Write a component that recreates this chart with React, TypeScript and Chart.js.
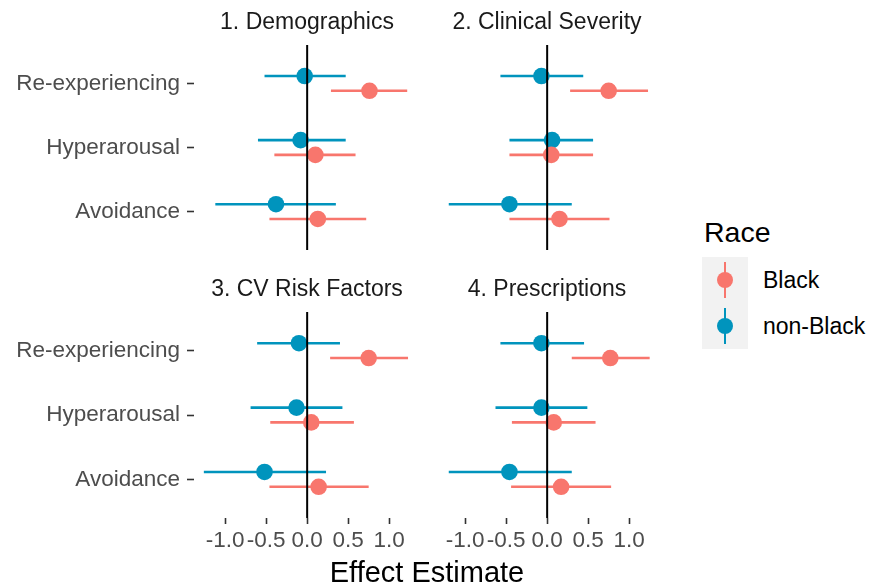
import React, { useEffect, useRef } from "react";
import { Chart, registerables } from "chart.js";

Chart.register(...registerables);

const FONT = "'Liberation Sans', Arial, Helvetica, sans-serif";

const categories = ["Re-experiencing", "Hyperarousal", "Avoidance"];
const facets = ["1. Demographics", "2. Clinical Severity", "3. CV Risk Factors", "4. Prescriptions"];
const groups = ["Black", "non-Black"];
const groupColors = ["#F8766D", "#0094BD"];

// per facet, per category (Re-experiencing, Hyperarousal, Avoidance)
const blackEstimate = [
  [0.76, 0.1, 0.13],
  [0.75, 0.05, 0.15],
  [0.75, 0.05, 0.14],
  [0.77, 0.08, 0.17],
];
const blackLower = [
  [0.29, -0.4, -0.46],
  [0.28, -0.46, -0.46],
  [0.28, -0.45, -0.46],
  [0.3, -0.43, -0.44],
];
const blackUpper = [
  [1.22, 0.59, 0.72],
  [1.23, 0.56, 0.76],
  [1.23, 0.57, 0.75],
  [1.25, 0.59, 0.78],
];
const nonBlackEstimate = [
  [-0.03, -0.08, -0.38],
  [-0.07, 0.06, -0.46],
  [-0.1, -0.13, -0.52],
  [-0.07, -0.07, -0.46],
];
const nonBlackLower = [
  [-0.52, -0.6, -1.12],
  [-0.57, -0.46, -1.2],
  [-0.61, -0.69, -1.26],
  [-0.57, -0.63, -1.2],
];
const nonBlackUpper = [
  [0.47, 0.47, 0.35],
  [0.44, 0.56, 0.3],
  [0.4, 0.43, 0.23],
  [0.45, 0.49, 0.3],
];

const xTicks = [-1.0, -0.5, 0.0, 0.5, 1.0];
const xLimits = [-1.38, 1.376];
const yLimits = [0.4, 3.6];
const dodge = 0.115;

type PanelProps = {
  index: number;
  left: number;
  top: number;
  width: number;
  height: number;
  showY: boolean;
  showX: boolean;
  titlePadTop: number;
};

function Panel({ index, left, top, width, height, showY, showX, titlePadTop }: PanelProps) {
  const ref = useRef<HTMLCanvasElement | null>(null);

  useEffect(() => {
    if (!ref.current) return;
    const datasets: any[] = [];
    datasets.push({
      label: "zero",
      data: yLimits.map((y) => ({ x: 0, y })),
      showLine: true,
      borderColor: "#000000",
      borderWidth: 2,
      pointRadius: 0,
      order: 0,
    });
    groups.forEach((g, gi) => {
      const est = gi === 0 ? blackEstimate[index] : nonBlackEstimate[index];
      const lo = gi === 0 ? blackLower[index] : nonBlackLower[index];
      const hi = gi === 0 ? blackUpper[index] : nonBlackUpper[index];
      const off = gi === 0 ? dodge : -dodge;
      datasets.push({
        label: g,
        data: categories.map((c, i) => ({ x: est[i], y: i + 1 + off })),
        pointRadius: 8.3,
        pointBackgroundColor: groupColors[gi],
        pointBorderWidth: 0,
        backgroundColor: groupColors[gi],
        borderColor: groupColors[gi],
        order: 1,
      });
      categories.forEach((c, i) => {
        datasets.push({
          label: g + " " + c,
          data: [
            { x: lo[i], y: i + 1 + off },
            { x: hi[i], y: i + 1 + off },
          ],
          showLine: true,
          borderColor: groupColors[gi],
          borderWidth: 2.6,
          pointRadius: 0,
          order: 2,
        });
      });
    });

    const chart = new Chart(ref.current, {
      type: "scatter",
      data: { datasets },
      options: {
        animation: false,
        responsive: false,
        maintainAspectRatio: false,
        events: [],
        layout: { padding: 0, autoPadding: false } as any,
        plugins: {
          legend: { display: false },
          tooltip: { enabled: false },
          title: {
            display: true,
            text: facets[index],
            fullSize: false,
            color: "#1A1A1A",
            font: { family: FONT, size: 23, weight: "normal" as any, lineHeight: 1.2 },
            padding: { top: titlePadTop, bottom: 8.2 },
          },
        },
        scales: {
          x: {
            type: "linear",
            min: xLimits[0],
            max: xLimits[1],
            display: showX,
            afterBuildTicks: (scale: any) => {
              scale.ticks = xTicks.map((v) => ({ value: v }));
            },
            afterFit: (scale: any) => {
              scale.height = showX ? 40 : 0;
              scale.paddingLeft = 0;
              scale.paddingRight = 0;
            },
            grid: {
              drawOnChartArea: false,
              drawTicks: true,
              tickLength: 6,
              tickWidth: 1.6,
              tickColor: "#333333",
            },
            border: { display: false },
            ticks: {
              display: showX,
              autoSkip: false,
              maxRotation: 0,
              minRotation: 0,
              padding: 3,
              color: "#4D4D4D",
              font: { family: FONT, size: 22.5 },
              callback: (v: any) => Number(v).toFixed(1),
            },
          },
          y: {
            type: "linear",
            min: yLimits[0],
            max: yLimits[1],
            reverse: true,
            display: showY,
            afterBuildTicks: (scale: any) => {
              scale.ticks = categories.map((c, i) => ({ value: i + 1 }));
            },
            afterFit: (scale: any) => {
              scale.width = showY ? 194 : 0;
              scale.paddingTop = 0;
              scale.paddingBottom = 0;
            },
            grid: {
              drawOnChartArea: false,
              drawTicks: true,
              tickLength: 7,
              tickWidth: 1.6,
              tickColor: "#333333",
            },
            border: { display: false },
            ticks: {
              display: showY,
              autoSkip: false,
              padding: 7,
              color: "#4D4D4D",
              font: { family: FONT, size: 22.5 },
              callback: (v: any) => categories[Math.round(Number(v)) - 1] ?? "",
            },
          },
        },
      },
    });
    return () => chart.destroy();
  }, [index, showX, showY, titlePadTop]);

  return (
    <canvas
      ref={ref}
      width={width}
      height={height}
      style={{ position: "absolute", left, top, width, height }}
    />
  );
}

function LegendKey({ color, top }: { color: string; top: number }) {
  return (
    <div style={{ position: "absolute", left: 0, top, width: 46, height: 46 }}>
      <div
        style={{
          position: "absolute",
          left: 23 - 1.3,
          top: 5,
          width: 2.6,
          height: 36,
          background: color,
        }}
      />
      <div
        style={{
          position: "absolute",
          left: 23 - 8.3,
          top: 23 - 8.3,
          width: 16.6,
          height: 16.6,
          borderRadius: "50%",
          background: color,
        }}
      />
    </div>
  );
}

export default function App() {
  return (
    <div
      style={{
        position: "absolute",
        left: 0,
        top: 0,
        width: 869,
        height: 587,
        background: "#FFFFFF",
        fontFamily: FONT,
        overflow: "hidden",
      }}
    >
      <Panel index={0} left={0} top={0} width={420} height={250} showY={true} showX={false} titlePadTop={9.2} />
      <Panel index={1} left={434} top={0} width={226} height={250} showY={false} showX={false} titlePadTop={9.2} />
      <Panel index={2} left={0} top={260} width={420} height={298} showY={true} showX={true} titlePadTop={16.2} />
      <Panel index={3} left={434} top={260} width={226} height={298} showY={false} showX={true} titlePadTop={16.2} />

      <div
        style={{
          position: "absolute",
          left: 427,
          top: 555,
          transform: "translateX(-50%)",
          fontSize: 29,
          lineHeight: "34px",
          color: "#000000",
          whiteSpace: "nowrap",
        }}
      >
        Effect Estimate
      </div>

      <div
        style={{
          position: "absolute",
          left: 704,
          top: 215,
          fontSize: 28.5,
          lineHeight: "34px",
          color: "#000000",
          whiteSpace: "nowrap",
        }}
      >
        Race
      </div>
      <div style={{ position: "absolute", left: 702, top: 257, width: 46, height: 92, background: "#F2F2F2" }}>
        <LegendKey color={groupColors[0]} top={0} />
        <LegendKey color={groupColors[1]} top={46} />
      </div>
      {groups.map((g, gi) => (
        <div
          key={g}
          style={{
            position: "absolute",
            left: 763,
            top: 257 + gi * 46 + 23 - 13,
            fontSize: 23,
            lineHeight: "26px",
            color: "#000000",
            whiteSpace: "nowrap",
          }}
        >
          {g}
        </div>
      ))}
    </div>
  );
}
